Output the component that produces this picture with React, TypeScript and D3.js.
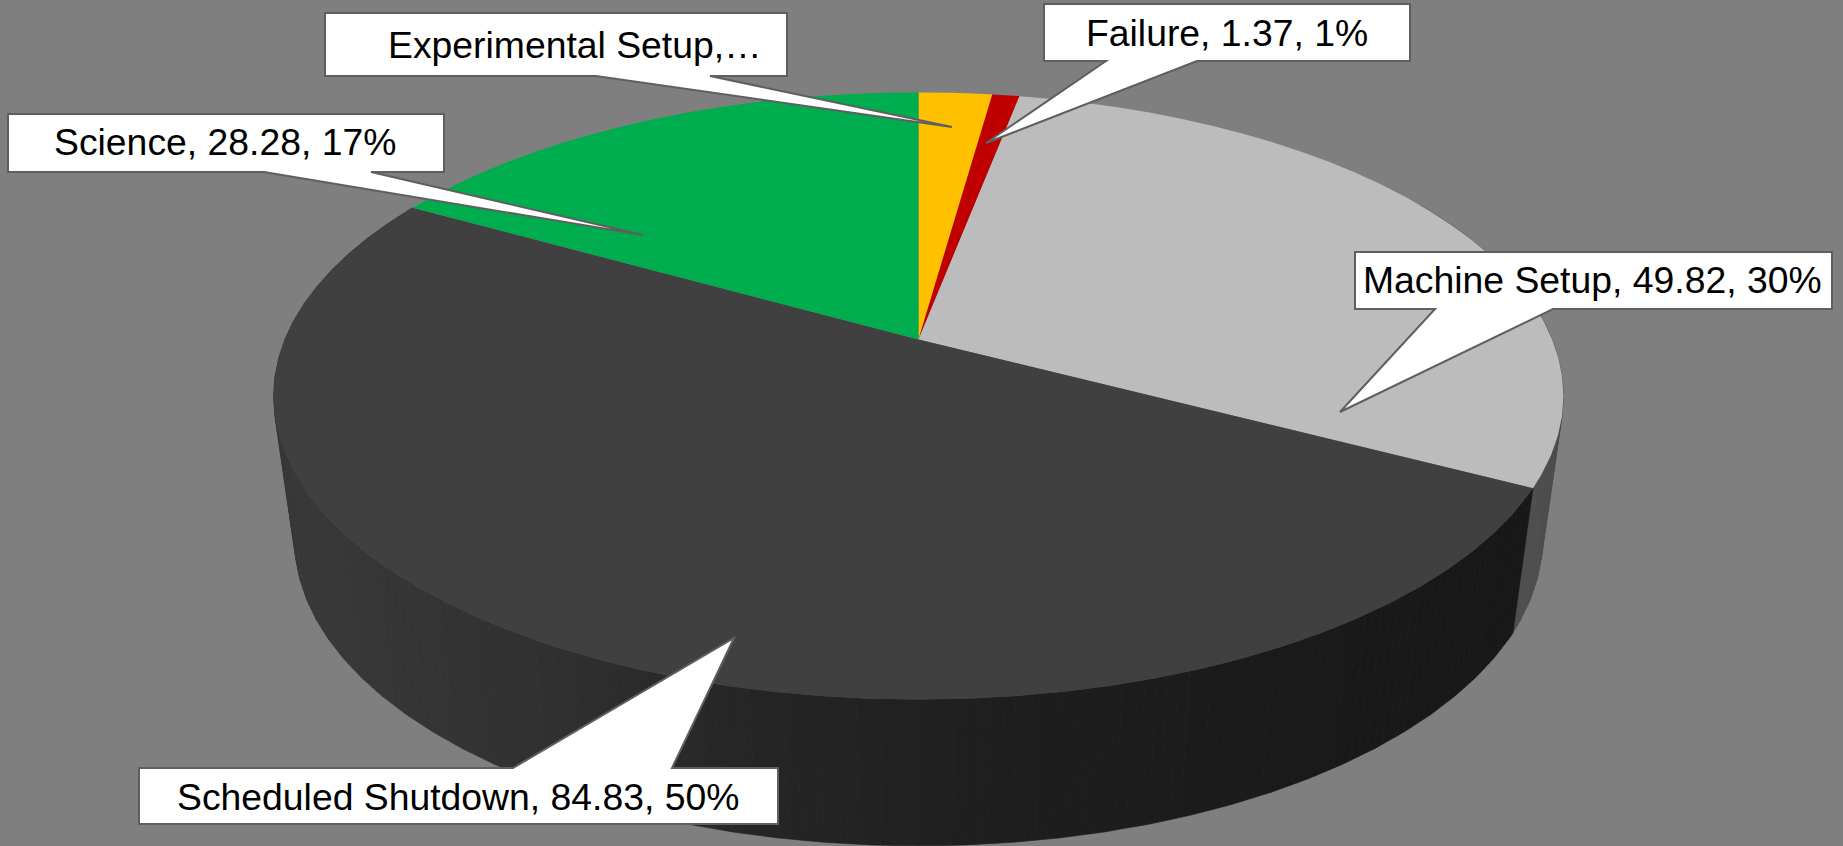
import React from "react";
import * as d3 from "d3";

const categories = ["Experimental Setup", "Failure", "Machine Setup", "Scheduled Shutdown", "Science"];
const hours = [3.7, 1.37, 49.82, 84.83, 28.28];
const topColors = ["#ffc000", "#c00000", "#bcbcbc", "#404040", "#00ad4e"];

const labelTexts = [
  "Experimental Setup,…",
  "Failure, 1.37, 1%",
  "Machine Setup, 49.82, 30%",
  "Scheduled Shutdown, 84.83, 50%",
  "Science, 28.28, 17%",
];

// callout layout, in page pixels: box, pointer base, pointer tip, text start and baseline
const callouts = [
  { x0: 325, x1: 787, y0: 13, y1: 76, base: [596, 710], tip: [952, 127], tx: 388, ty: 58 },
  { x0: 1044, x1: 1410, y0: 4, y1: 61, base: [1106, 1197], tip: [986, 143], tx: 1086, ty: 46 },
  { x0: 1355, x1: 1832, y0: 252, y1: 309, base: [1435, 1553], tip: [1340, 412], tx: 1363, ty: 293 },
  { x0: 139, x1: 778, y0: 768, y1: 824, base: [513, 672], tip: [734, 638], tx: 177, ty: 810 },
  { x0: 8, x1: 444, y0: 114, y1: 172, base: [264, 371], tip: [643, 235], tx: 54, ty: 155 },
];

const width = 1843;
const height = 846;
const cx = 918.5;
const step = (3.6 * Math.PI) / 180;

// perspective disc: w = 1 + k*cos(a)
const k = 0.186;
const topDisc = { r: 633.7, a: -229.9, b: 339.5 };
const bottomDisc = { r: 613, a: -205.5, b: 483 };

type Disc = typeof topDisc;
type Pt = [number, number];

function project(d: Disc, angle: number): Pt {
  const u = Math.sin(angle);
  const v = Math.cos(angle);
  const w = 1 + k * v;
  return [cx + (d.r * u) / w, (d.a * v + d.b) / w];
}

// facet stops on a fixed grid, the outline in the reference is polygonal too
function stops(start: number, end: number) {
  const inner = d3.range(Math.ceil(start / step), Math.floor(end / step) + 1).map((i) => i * step);
  return [start, ...inner.filter((a) => a > start && a < end), end];
}

const slices = d3
  .pie<number>()
  .sort(null)
  .startAngle(0)
  .endAngle(2 * Math.PI)(hours);

const path = d3.line<Pt>();

const shutdownShade = d3
  .scaleLinear<string>()
  .domain([290, 560, 740, 1000, 1516])
  .range(["#393939", "#303030", "#262626", "#1e1e1e", "#171717"])
  .clamp(true);

function wallColor(name: string, x: number) {
  return name === "Machine Setup" ? "#4f4f4f" : shutdownShade(x);
}

function lerp(a: Pt, b: Pt, t: number): Pt {
  return [a[0] + (b[0] - a[0]) * t, a[1] + (b[1] - a[1]) * t];
}

// each facet is cut in a few strips so the shade steps stay faint
const strips = [0, 0.25, 0.5, 0.75];

export default function App() {
  const walls = slices.flatMap((s, i) => {
    const name = categories[i];
    if (name !== "Machine Setup" && name !== "Scheduled Shutdown") return [];
    const st = stops(Math.max(s.startAngle, Math.PI / 3), s.endAngle);
    return d3.pairs(st).flatMap(([a0, a1]) => {
      const p0 = project(topDisc, a0);
      const p1 = project(topDisc, a1);
      const q1 = project(bottomDisc, a1);
      const q0 = project(bottomDisc, a0);
      return strips.map((t) => {
        const t1 = t + 0.25;
        const pa = lerp(p0, p1, t);
        const pb = lerp(p0, p1, t1);
        const qa = lerp(q0, q1, t);
        const qb = lerp(q0, q1, t1);
        return {
          key: `${name}-${a0}-${t}`,
          d: path([pa, pb, qb, qa]) + "Z",
          fill: wallColor(name, (qa[0] + qb[0]) / 2),
        };
      });
    });
  });

  return (
    <svg
      width={width}
      height={height}
      viewBox={`0 0 ${width} ${height}`}
      style={{ position: "absolute", left: 0, top: 0, display: "block" }}
    >
      <rect width={width} height={height} fill="#7f7f7f" />

      {walls.map((w) => (
        <path key={w.key} d={w.d} fill={w.fill} stroke={w.fill} strokeWidth={0.6} />
      ))}

      {slices.map((s, i) => {
        const rim = stops(s.startAngle, s.endAngle).map((a) => project(topDisc, a));
        const centre: Pt = [cx, topDisc.b];
        return <path key={categories[i]} d={path([centre, ...rim]) + "Z"} fill={topColors[i]} />;
      })}

      {callouts.map((c, i) => {
        const tipAbove = c.tip[1] < c.y0;
        const outline: Pt[] = tipAbove
          ? [
              [c.x0, c.y0],
              [c.base[0], c.y0],
              [c.tip[0], c.tip[1]],
              [c.base[1], c.y0],
              [c.x1, c.y0],
              [c.x1, c.y1],
              [c.x0, c.y1],
            ]
          : [
              [c.x0, c.y0],
              [c.x1, c.y0],
              [c.x1, c.y1],
              [c.base[1], c.y1],
              [c.tip[0], c.tip[1]],
              [c.base[0], c.y1],
              [c.x0, c.y1],
            ];
        return (
          <g key={labelTexts[i]}>
            <path d={path(outline) + "Z"} fill="#ffffff" stroke="#5f5f5f" strokeWidth={2} />
            <text x={c.tx} y={c.ty} fontFamily="'Liberation Sans', Arial, sans-serif" fontSize={37.33} fill="#000000">
              {labelTexts[i]}
            </text>
          </g>
        );
      })}
    </svg>
  );
}
